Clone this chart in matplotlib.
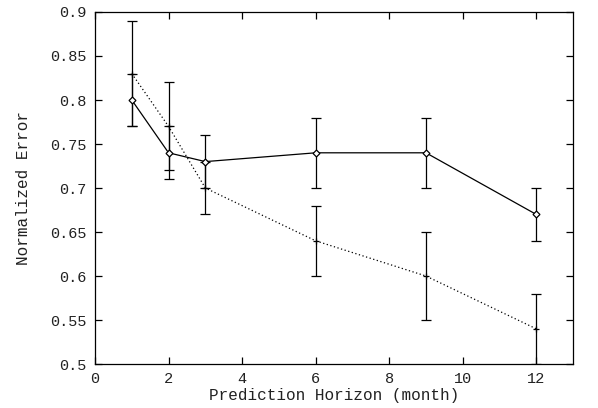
import matplotlib
matplotlib.use("Agg")
import matplotlib.pyplot as plt

plt.rcParams["font.family"] = ["Liberation Mono", "DejaVu Sans Mono"]

horizon = [1, 2, 3, 6, 9, 12]

# solid line, diamond markers
err_a = [0.80, 0.74, 0.73, 0.74, 0.74, 0.67]
err_a_dev = [0.03, 0.03, 0.03, 0.04, 0.04, 0.03]

# dotted line, plus markers
err_b = [0.83, 0.77, 0.70, 0.64, 0.60, 0.54]
err_b_dev = [0.06, 0.05, 0.03, 0.04, 0.05, 0.04]

fig = plt.figure(figsize=(5.98, 4.08), dpi=100)
ax = fig.add_axes([0.1589, 0.1078, 0.7993, 0.8628])

ax.errorbar(horizon, err_a, yerr=err_a_dev, color="black", linestyle="-",
            linewidth=0.9, marker="D", markersize=3.5, markerfacecolor="white",
            markeredgewidth=0.9, capsize=3.5, elinewidth=0.9, capthick=0.9)
ax.errorbar(horizon, err_b, yerr=err_b_dev, color="black", linestyle=(0, (1, 2)),
            linewidth=0.9, marker="+", markersize=5, markeredgewidth=0.9,
            capsize=3.5, elinewidth=0.9, capthick=0.9)

ax.set_xlim(0, 13)
ax.set_ylim(0.5, 0.9)
ax.set_xticks([0, 2, 4, 6, 8, 10, 12])
ax.set_yticks([0.5, 0.55, 0.6, 0.65, 0.7, 0.75, 0.8, 0.85, 0.9])
ax.set_yticklabels(["0.5", "0.55", "0.6", "0.65", "0.7", "0.75", "0.8", "0.85", "0.9"])
ax.tick_params(direction="in", top=True, right=True, length=5, width=0.9,
               labelsize=11, pad=6, labelcolor="#222222")
for s in ax.spines.values():
    s.set_linewidth(0.9)

ax.set_xlabel("Prediction Horizon (month)", fontsize=11.5, labelpad=1, color="#222222")
ax.set_ylabel("Normalized Error", fontsize=11.5, labelpad=14, color="#222222")

fig.savefig("out.png", dpi=100)
